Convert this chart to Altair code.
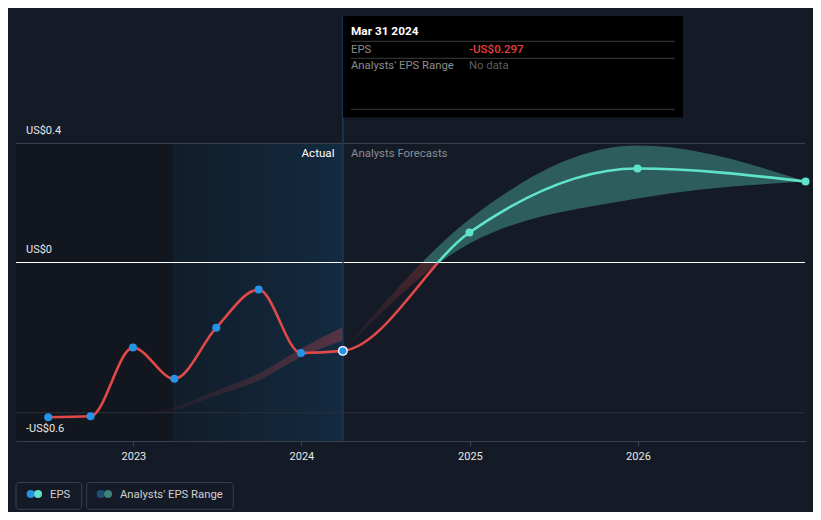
import altair as alt
import pandas as pd

# ---------------- data ----------------
past_dates = ["2022-06-30", "2022-09-30", "2022-12-31", "2023-03-31",
              "2023-06-30", "2023-09-30", "2023-12-31", "2024-03-31"]
past_eps = [-0.520, -0.517, -0.286, -0.391, -0.219, -0.091, -0.304, -0.297]

fc_dates = ["2024-12-31", "2025-12-31", "2026-12-31"]
fc_eps = [0.101, 0.316, 0.272]

range_dates = ["2024-03-31", "2024-12-31", "2025-12-31", "2026-12-31"]
range_low = [-0.297, 0.064, 0.215, 0.272]
range_high = [-0.297, 0.145, 0.393, 0.273]

prev_dates = ["2022-12-31", "2023-03-31", "2023-06-30", "2023-09-30", "2023-12-31", "2024-03-31"]
prev_low = [-0.522, -0.497, -0.447, -0.397, -0.318, -0.262]
prev_high = [-0.520, -0.486, -0.430, -0.373, -0.290, -0.217]

y_ticks = [0.4, 0.0, -0.6]
y_labels = ["US$0.4", "US$0", "-US$0.6"]
minor_grid = [-0.505]

x_years = [2023, 2024, 2025, 2026]

# ---------------- style ----------------
BG = "#151b26"
RED = "#e24848"
TEAL = "#5fe3cb"
BLUE = "#2394e8"
FONT = "Roboto"
W, H = 790, 425

xs = alt.Scale(type="utc",
               domain=[alt.DateTime(year=2022, month=4, date=21, utc=True),
                       alt.DateTime(year=2027, month=1, date=1, utc=True)])
ys = alt.Scale(domain=[-0.6, 0.8286], nice=False, zero=False)

AX = alt.Axis(values=[alt.DateTime(year=yy, month=1, date=1, utc=True) for yy in x_years],
              labelExpr="utcFormat(datum.value, '%Y')",
              grid=False, title=None, domainColor="#3b404a", tickColor="#3b404a",
              tickSize=5, labelColor="#e8e8e8", labelFont=FONT, labelFontSize=11,
              labelPadding=4, zindex=1)

eps_df = pd.DataFrame({"date": past_dates + fc_dates, "eps": past_eps + fc_eps})
past_df = pd.DataFrame({"date": past_dates[:-1], "eps": past_eps[:-1]})
last_df = pd.DataFrame({"date": past_dates[-1:], "eps": past_eps[-1:]})
fc_df = pd.DataFrame({"date": fc_dates, "eps": fc_eps})
range_df = pd.DataFrame({"date": range_dates, "low": range_low, "high": range_high})
prev_df = pd.DataFrame({"date": prev_dates, "low": prev_low, "high": prev_high})
ylab_df = pd.DataFrame({"v": y_ticks, "label": y_labels})
regions = pd.DataFrame({"start": ["2022-04-21", "2023-03-31"],
                        "end": ["2023-03-31", "2024-03-31"],
                        "top": [0.4, 0.4], "bottom": [-0.6, -0.6],
                        "kind": ["past", "ttm"]})
one = pd.DataFrame({"a": [0]})

X = lambda f="date": alt.X(f"{f}:T", scale=xs, axis=AX)
Y = lambda f: alt.Y(f"{f}:Q", scale=ys, axis=None)

# background regions
past_region = alt.Chart(regions[regions.kind == "past"]).mark_rect(color="#12161e").encode(
    x=X("start"), x2="end:T", y=Y("top"), y2="bottom:Q")
ttm_region = alt.Chart(regions[regions.kind == "ttm"]).mark_rect(
    fill={"gradient": "linear", "x1": 0, "x2": 1, "y1": 0, "y2": 0,
          "stops": [{"offset": 0, "color": "#111d2a"}, {"offset": 1, "color": "#132a40"}]}
).encode(x=X("start"), x2="end:T", y=Y("top"), y2="bottom:Q")

vline1 = alt.Chart(regions[regions.kind == "ttm"]).mark_rule(color="#18293a", strokeWidth=1).encode(
    x=X("start"), y=Y("top"), y2="bottom:Q")
vline2 = alt.Chart(regions[regions.kind == "ttm"]).mark_rule(color="#1f3a55", strokeWidth=1.5).encode(
    x=X("end"), y=alt.value(0), y2=alt.value(H))

# gridlines
grid_main = alt.Chart(pd.DataFrame({"v": [0.4]})).mark_rule(color="#3b404a", strokeWidth=1).encode(
    y=Y("v"), x=alt.value(0), x2=alt.value(789))
grid_zero = alt.Chart(pd.DataFrame({"v": [0.0]})).mark_rule(color="#ffffff", strokeWidth=1.2).encode(
    y=Y("v"), x=alt.value(0), x2=alt.value(789))
grid_minor = alt.Chart(pd.DataFrame({"v": minor_grid})).mark_rule(color="#2b303a", strokeWidth=1).encode(
    y=Y("v"), x=alt.value(0), x2=alt.value(789))

# previous forecast band (faded)
prev_band = alt.Chart(prev_df).mark_area(
    interpolate="monotone",
    fill={"gradient": "linear", "x1": 0, "x2": 1, "y1": 0, "y2": 0,
          "stops": [{"offset": 0, "color": "rgba(226,72,72,0)"},
                    {"offset": 1, "color": "rgba(226,72,72,0.32)"}]}
).encode(x=X(), y=Y("low"), y2="high:Q")

# analysts range band
hi = max(range_high)
lo = min(range_low)
off_b = hi / (hi - lo)
band = alt.Chart(range_df).mark_area(
    interpolate="monotone",
    fill={"gradient": "linear", "x1": 0, "x2": 0, "y1": 0, "y2": 1,
          "stops": [{"offset": 0, "color": "rgba(95,227,203,0.33)"},
                    {"offset": off_b, "color": "rgba(95,227,203,0.33)"},
                    {"offset": off_b, "color": "rgba(226,72,72,0.25)"},
                    {"offset": 1, "color": "rgba(226,72,72,0.04)"}]}
).encode(x=X(), y=Y("low"), y2="high:Q")

# EPS line
emax = max(past_eps + fc_eps)
emin = min(past_eps + fc_eps)
off_l = emax / (emax - emin)
eps_line = alt.Chart(eps_df).mark_line(
    interpolate="monotone", strokeWidth=2.6,
    stroke={"gradient": "linear", "x1": 0, "x2": 0, "y1": 0, "y2": 1,
            "stops": [{"offset": 0, "color": TEAL}, {"offset": off_l, "color": TEAL},
                      {"offset": off_l, "color": RED}, {"offset": 1, "color": RED}]}
).encode(x=X(), y=Y("eps"))

past_pts = alt.Chart(past_df).mark_circle(size=64, color=BLUE, opacity=1).encode(x=X(), y=Y("eps"))
fc_pts = alt.Chart(fc_df).mark_circle(size=64, color=TEAL, opacity=1).encode(x=X(), y=Y("eps"))
last_pt = alt.Chart(last_df).mark_point(filled=True, fill=BLUE, stroke="white", strokeWidth=1.3,
                                        size=75, opacity=1).encode(x=X(), y=Y("eps"))

# y labels
ylabels = alt.Chart(ylab_df).mark_text(align="left", baseline="middle", dy=-12.5, font=FONT,
                                       fontSize=11, color="#e8e8e8").encode(
    x=alt.value(10), y=Y("v"), text="label:N")


def txt(s, x, y, color="#e8e8e8", size=11.3, weight="normal", align="left"):
    return alt.Chart(one).mark_text(align=align, baseline="middle", font=FONT, fontSize=size,
                                    fontWeight=weight, color=color).encode(
        x=alt.value(x), y=alt.value(y), text=alt.value(s))


def box(x1, x2, y1, y2, fill, stroke=None, radius=0):
    kw = dict(fill=fill, cornerRadius=radius)
    if stroke:
        kw.update(stroke=stroke, strokeWidth=1)
    return alt.Chart(one).mark_rect(**kw).encode(
        x=alt.value(x1), x2=alt.value(x2), y=alt.value(y1), y2=alt.value(y2))


def hline(x1, x2, y, color):
    return alt.Chart(one).mark_rule(color=color, strokeWidth=1).encode(
        x=alt.value(x1), x2=alt.value(x2), y=alt.value(y))


def dot(x, y, color):
    return alt.Chart(one).mark_circle(size=64, color=color, opacity=1).encode(
        x=alt.value(x), y=alt.value(y))


labels = [
    txt("Actual", 318.5, 138, "#ffffff", 11.6, align="right"),
    txt("Analysts Forecasts", 335, 138, "#8a8d93", 11.4),
]

tooltip = [
    box(327, 667, 0, 101.5, "#000000"),
    txt("Mar 31 2024", 335, 15.3, "#ffffff", 11.8, "bold"),
    hline(335, 659, 25.3, "#3d3d3d"),
    txt("EPS", 335, 33.5, "#8c8c8c"),
    txt("-US$0.297", 453, 33.5, "#e8403f", 11.6, 500),
    hline(335, 659, 42.3, "#3d3d3d"),
    txt("Analysts' EPS Range", 335, 50.2, "#8c8c8c"),
    txt("No data", 453, 50.2, "#5e5e5e"),
    hline(335, 659, 93.3, "#3d3d3d"),
]

legend = [
    box(0, 65.7, 466.5, 493.3, BG, "#3a404b", 3),
    box(70.7, 217.3, 466.5, 493.3, BG, "#3a404b", 3),
    dot(14.7, 478, BLUE), dot(22, 478, TEAL),
    dot(84.7, 478, "#1d4f73"), dot(92, 478, "#3c817a"),
    txt("EPS", 34, 478.5, "#d0d0d0"),
    txt("Analysts' EPS Range", 104, 478.5, "#d0d0d0"),
]

chart = alt.layer(
    past_region, ttm_region, vline1, grid_main, grid_minor,
    prev_band, band, grid_zero, vline2, eps_line,
    past_pts, fc_pts, last_pt, ylabels, *labels, *tooltip, *legend
).properties(
    width=W, height=H,
    autosize=alt.AutoSizeParams(type="none"),
    padding={"left": 8, "top": 8, "right": 7, "bottom": 71},
    background=BG,
).configure_view(stroke=None)

chart.save("out.html", embed_options={"renderer": "svg", "actions": False})
